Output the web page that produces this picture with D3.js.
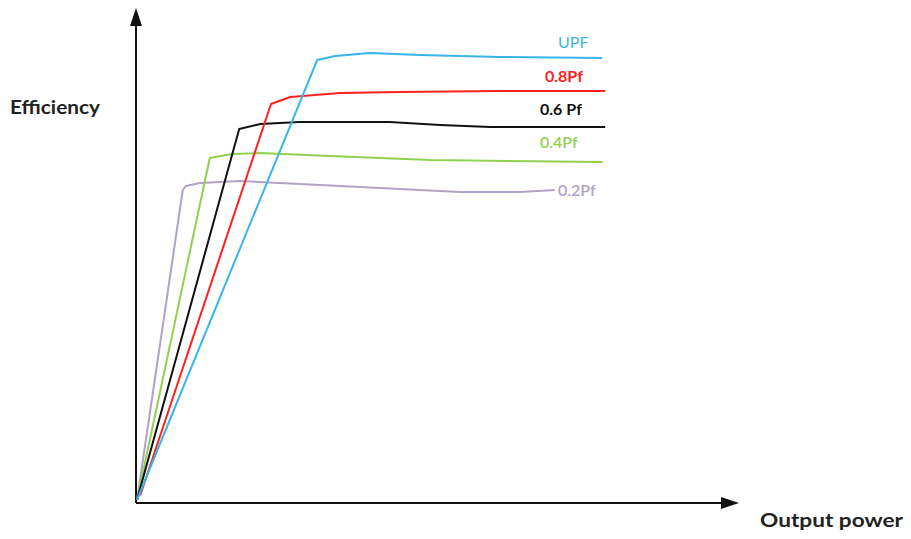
<!DOCTYPE html>
<html><head><meta charset="utf-8">
<script src="https://cdn.jsdelivr.net/npm/d3@7"></script>
<style>body{margin:0;background:#fff}svg{display:block}</style>
</head><body>
<script>
// Data (x: output power %, y: efficiency %)
const seriesNames = ["UPF", "0.8Pf", "0.6 Pf", "0.4Pf", "0.2Pf"];
const upfX = [0.17, 30.2, 33.2, 39, 47.3, 60.7, 77.7];
const upfY = [0.6, 88.6, 89.4, 90, 89.6, 89.2, 89];
const pf08X = [0.7, 22.5, 25.7, 34, 44, 60.7, 78.2];
const pf08Y = [1.5, 79.8, 81.2, 82, 82.2, 82.4, 82.4];
const pf06X = [0.17, 17.2, 20.7, 27.3, 42.3, 50.7, 59, 78.2];
const pf06Y = [0.6, 74.8, 75.8, 76.2, 76.2, 75.6, 75.2, 75.2];
const pf04X = [0.17, 12.3, 16, 20.7, 32.3, 49, 77.8];
const pf04Y = [0.6, 69, 69.8, 70, 69.4, 68.6, 68.2];
const pf02X = [0.17, 7.8, 8.3, 10.7, 17.3, 27.3, 40.7, 54, 64, 69.8];
const pf02Y = [0.6, 62.6, 63.4, 64, 64.4, 63.8, 63, 62.2, 62.2, 62.6];
const xLabel = "Output power";
const yLabel = "Efficiency";

const colors = ["#3ab4ec", "#ff2020", "#111111", "#92d050", "#b3a2c7"];
const xs = [upfX, pf08X, pf06X, pf04X, pf02X];
const ys = [upfY, pf08Y, pf06Y, pf04Y, pf02Y];

const W = 911, H = 539;
const svg = d3.select("body").append("svg").attr("width", W).attr("height", H);
const x = d3.scaleLinear().domain([0, 100]).range([136, 736]);
const y = d3.scaleLinear().domain([0, 100]).range([503, 3]);

const font = "Lato, 'Open Sans', sans-serif";

// axes
svg.append("line").attr("x1", x(0)).attr("y1", y(0)).attr("x2", x(0)).attr("y2", 22)
  .attr("stroke", "#111").attr("stroke-width", 2);
svg.append("path").attr("d", `M${x(0)},8 L${x(0)-6},26 L${x(0)+6},26 Z`).attr("fill", "#111");
svg.append("line").attr("x1", x(0)).attr("y1", y(0)).attr("x2", 724).attr("y2", y(0))
  .attr("stroke", "#111").attr("stroke-width", 2);
svg.append("path").attr("d", `M739,${y(0)} L721,${y(0)-6} L721,${y(0)+6} Z`).attr("fill", "#111");

const line = d3.line().x(d => x(d[0])).y(d => y(d[1]));
[4, 3, 2, 1, 0].forEach(i => {
  const pts = xs[i].map((v, k) => [v, ys[i][k]]);
  svg.append("path").attr("d", line(pts)).attr("fill", "none")
    .attr("stroke", colors[i]).attr("stroke-width", 2).attr("stroke-linejoin", "round");
});

const labelPos = [[558, 48], [545, 82], [540, 115], [540, 148], [558, 196]];
const weights = [400, 700, 700, 600, 600];
seriesNames.forEach((n, i) => {
  svg.append("text").attr("x", labelPos[i][0]).attr("y", labelPos[i][1])
    .attr("fill", colors[i]).attr("font-family", font).attr("font-size", 16)
    .attr("font-weight", weights[i]).text(n);
});

svg.append("text").attr("x", 10).attr("y", 114).attr("font-family", font)
  .attr("font-size", 19.5).attr("font-weight", 700).attr("fill", "#222")
  .attr("textLength", 90).attr("lengthAdjust", "spacingAndGlyphs").text(yLabel);
svg.append("text").attr("x", 760).attr("y", 527).attr("font-family", font)
  .attr("font-size", 18).attr("font-weight", 700).attr("fill", "#222")
  .attr("textLength", 143).attr("lengthAdjust", "spacingAndGlyphs").text(xLabel);
</script>
</body></html>
